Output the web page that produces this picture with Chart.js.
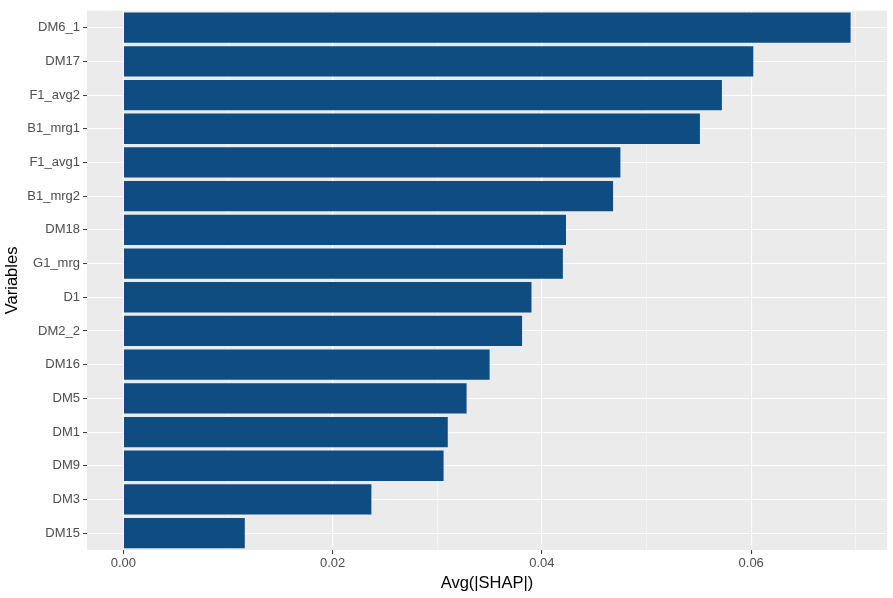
<!DOCTYPE html>
<html>
<head>
<meta charset="utf-8">
<script src="https://cdn.jsdelivr.net/npm/chart.js@4"></script>
<style>
  body { margin: 0; background: #fff; }
  #wrap { width: 893px; height: 598px; }
</style>
</head>
<body>
<div id="wrap"><canvas id="shap-chart"></canvas></div>
<script>
const variables = ['DM6_1', 'DM17', 'F1_avg2', 'B1_mrg1', 'F1_avg1', 'B1_mrg2', 'DM18', 'G1_mrg',
  'D1', 'DM2_2', 'DM16', 'DM5', 'DM1', 'DM9', 'DM3', 'DM15'];
const avgShap = [0.0695, 0.0602, 0.0572, 0.0551, 0.0475, 0.0468, 0.0423, 0.0420,
  0.0390, 0.0381, 0.0350, 0.0328, 0.0310, 0.0306, 0.0237, 0.0116];
const xTickLabels = [0, 0.02, 0.04, 0.06];

const FONT = '"Liberation Sans", Arial, Helvetica, sans-serif';

// grey ggplot panel behind the bars
const panelBg = {
  id: 'panelBg',
  beforeDraw(chart) {
    const { ctx, chartArea: a } = chart;
    ctx.save();
    ctx.fillStyle = '#EBEBEB';
    ctx.fillRect(a.left, a.top, a.right - a.left, a.bottom - a.top);
    ctx.restore();
  }
};

const isMajor = v => xTickLabels.some(t => Math.abs(t - v) < 1e-9);

const ctx = document.getElementById('shap-chart').getContext('2d');
new Chart(ctx, {
  type: 'bar',
  data: {
    labels: variables,
    datasets: [{
      data: avgShap,
      backgroundColor: '#0F4C81',
      borderWidth: 0,
      barPercentage: 0.9,
      categoryPercentage: 1
    }]
  },
  plugins: [panelBg],
  options: {
    indexAxis: 'y',
    responsive: true,
    maintainAspectRatio: false,
    animation: false,
    layout: { padding: { top: 8, right: 6, left: 0, bottom: 0 } },
    plugins: {
      legend: { display: false },
      tooltip: { enabled: false }
    },
    scales: {
      x: {
        type: 'linear',
        min: -0.00348,
        max: 0.07298,
        border: { display: false },
        afterFit: scale => { scale.height = 48; },
        grid: {
          color: '#FFFFFF',
          lineWidth: c => isMajor(c.tick.value) ? 1.1 : 0.5,
          tickColor: c => isMajor(c.tick.value) ? '#333333' : 'rgba(0,0,0,0)',
          tickLength: 4,
          tickWidth: 1
        },
        ticks: {
          stepSize: 0.01,
          includeBounds: false,
          autoSkip: false,
          maxRotation: 0,
          padding: 2,
          color: '#4D4D4D',
          font: { family: FONT, size: 13 },
          callback: v => isMajor(v) ? v.toFixed(2) : ''
        },
        title: {
          display: true,
          text: 'Avg(|SHAP|)',
          color: '#000000',
          font: { family: FONT, size: 16.5 },
          padding: { top: 0, bottom: 5 }
        }
      },
      y: {
        border: { display: false },
        afterFit: scale => { scale.width = 87; },
        grid: {
          offset: false,
          color: '#FFFFFF',
          lineWidth: 1.1,
          tickColor: '#333333',
          tickLength: 4,
          tickWidth: 1
        },
        ticks: {
          padding: 3,
          color: '#4D4D4D',
          font: { family: FONT, size: 13 }
        },
        title: {
          display: true,
          text: 'Variables',
          color: '#000000',
          font: { family: FONT, size: 16.5 },
          padding: { top: 3, bottom: 0 }
        }
      }
    }
  }
});
</script>
</body>
</html>
